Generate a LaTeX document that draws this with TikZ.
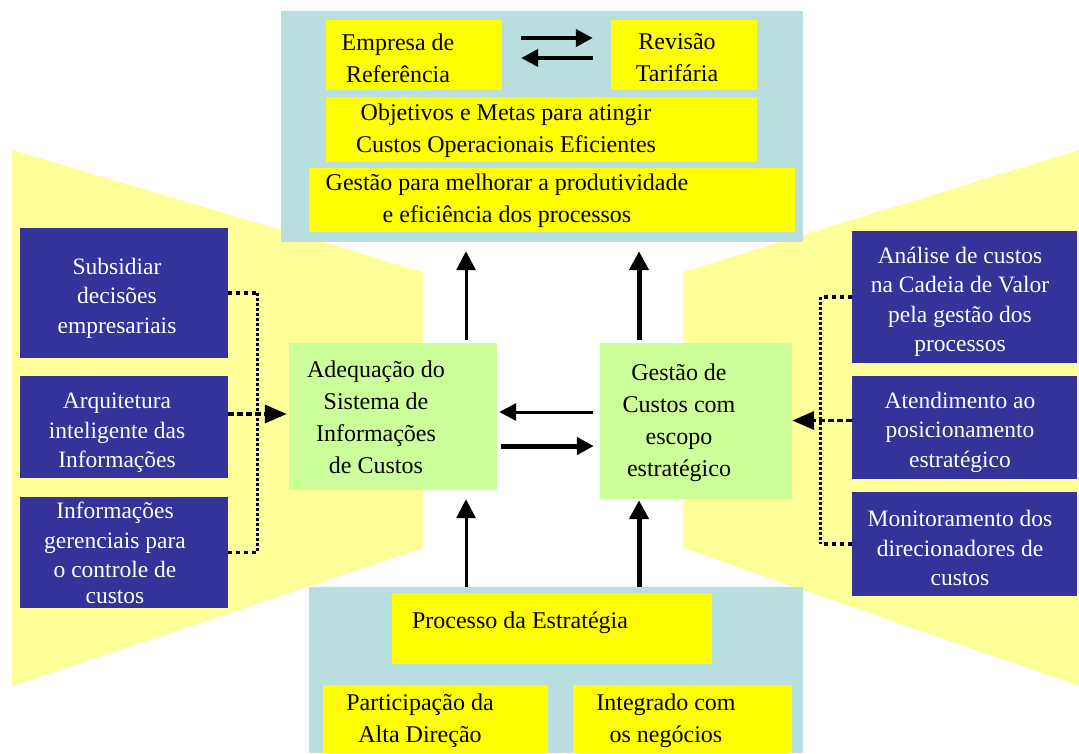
\documentclass[tikz,border=0pt]{standalone}
\usepackage{fontspec}
\setmainfont{Liberation Serif}
\usetikzlibrary{arrows.meta,fit}
\definecolor{panelblue}{RGB}{184,222,224}
\definecolor{boxyellow}{RGB}{255,255,0}
\definecolor{paleyellow}{RGB}{255,255,153}
\definecolor{navyblue}{RGB}{51,51,153}
\definecolor{lightgreen}{RGB}{204,255,153}
\begin{document}
\begin{tikzpicture}[x=1pt,y=-1pt,
  panel/.style={fill=panelblue, inner sep=0pt, draw=none},
  ybox/.style={fill=boxyellow, inner sep=0pt, draw=none},
  nbox/.style={fill=navyblue, inner sep=0pt, draw=none},
  gbox/.style={fill=lightgreen, inner sep=0pt, draw=none},
  dtext/.style={align=center, text=black, font=\fontsize{24}{32}\selectfont, inner sep=0pt},
  wtext/.style={align=center, text=white, font=\fontsize{23.5}{29.5}\selectfont, inner sep=0pt},
  arrthin/.style={line width=3pt, -{Triangle[length=19pt,width=19pt]}},
  arrthick/.style={line width=5pt, -{Triangle[length=19pt,width=19pt]}},
  harr/.style={line width=#1, -{Triangle[length=17pt,width=17pt]}},
  doth/.style={line width=3.5pt, dash pattern=on 4pt off 4pt},
  dotv/.style={line width=3pt, dash pattern=on 2.5pt off 2.5pt},
  dasharr/.style={line width=3.5pt, dash pattern=on 6pt off 3pt, -{Triangle[length=22pt,width=18pt]}}
]
\useasboundingbox (0,0) rectangle (1079,753);
\fill[white] (0,0) rectangle (1079,753);

% pale yellow trapezoids
\fill[paleyellow] (12,150) -- (423,272) -- (423,548) -- (12,686) -- cycle;
\fill[paleyellow] (1079,150) -- (683,272) -- (683,548) -- (1079,686) -- cycle;

% top panel
\node[panel, fit={(281,11) (803,242)}] (top) {};
\node[ybox, fit={(326,20) (502,90)}] (emp) {};
\node[ybox, fit={(611,20) (757,90)}] (rev) {};
\node[ybox, fit={(326,97) (757,162)}] (obj) {};
\node[ybox, fit={(309,168) (795,232)}] (gmel) {};
\node[dtext] (t-emp) at (398,58) {Empresa de\\Referência};
\node[dtext] (t-rev) at (677,58) {Revisão\\Tarifária};
\node[dtext] (t-obj) at (506,131) {Objetivos e Metas para atingir\\Custos Operacionais Eficientes};
\node[dtext] (t-gmel) at (507,201) {Gestão para melhorar a produtividade\\e eficiência dos processos};

% bottom panel
\node[panel, fit={(309,587) (803,753)}] (bot) {};
\node[ybox, fit={(392,593) (712,664)}] (proc) {};
\node[ybox, fit={(323,685) (548,753)}] (part) {};
\node[ybox, fit={(573,685) (792,753)}] (integ) {};
\node[dtext] (t-proc) at (520,623) {Processo da Estratégia};
\node[dtext] (t-part) at (420,721) {Participação da\\Alta Direção};
\node[dtext] (t-integ) at (666,721) {Integrado com\\os negócios};

% green boxes
\node[gbox, fit={(289,343) (497,490)}] (adeq) {};
\node[gbox, fit={(600,343) (792,499)}] (gcust) {};
\node[dtext] (t-adeq) at (376,417) {Adequação do\\Sistema de\\Informações\\de Custos};
\node[dtext] (t-gcust) at (679,423) {Gestão de\\Custos com\\escopo\\estratégico};

% left navy boxes
\node[nbox, fit={(20,228) (228,358)}] (sub) {};
\node[nbox, fit={(20,376) (228,478)}] (arq) {};
\node[nbox, fit={(20,497) (228,608)}] (inf) {};
\node[wtext] (t-sub) at (117,298) {Subsidiar\\decisões\\empresariais};
\node[wtext] (t-arq) at (117,433) {Arquitetura\\inteligente das\\Informações};
\node[wtext] (t-inf) at (115,553) {Informações\\gerenciais para\\o controle de\\[-3.5pt]custos};

% right navy boxes
\node[nbox, fit={(852,231) (1077,363)}] (ana) {};
\node[nbox, fit={(852,376) (1077,479)}] (ate) {};
\node[nbox, fit={(852,492) (1077,596)}] (mon) {};
\node[wtext] (t-ana) at (960,302) {Análise de custos\\na Cadeia de Valor\\pela gestão dos\\processos};
\node[wtext] (t-ate) at (960,432) {Atendimento ao\\posicionamento\\estratégico};
\node[wtext] (t-mon) at (960,548) {Monitoramento dos\\direcionadores de\\custos};

% arrows in top panel
\coordinate (ty1) at (0,38);
\coordinate (ty2) at (0,58);
\draw[harr=4pt, shorten <=19pt, shorten >=18pt] (emp.east |- ty1) -- (rev.west |- ty1);
\draw[harr=4pt, shorten <=18pt, shorten >=19pt] (rev.west |- ty2) -- (emp.east |- ty2);

% vertical arrows
\coordinate (ux1) at (466,0);
\coordinate (ux2) at (639,0);
\draw[arrthin, shorten <=3pt, shorten >=9pt] (ux1 |- adeq.north) -- (ux1 |- top.south);
\draw[arrthick, shorten <=3pt, shorten >=9pt] (ux2 |- gcust.north) -- (ux2 |- top.south);
\draw[arrthin, shorten >=9pt] (ux1 |- bot.north) -- (ux1 |- adeq.south);
\draw[arrthick, shorten >=1pt] (ux2 |- bot.north) -- (ux2 |- gcust.south);

% horizontal arrows between green boxes
\coordinate (hy1) at (0,412);
\coordinate (hy2) at (0,446);
\draw[harr=3pt, shorten <=7pt, shorten >=2pt] (gcust.west |- hy1) -- (adeq.east |- hy1);
\draw[harr=5pt, shorten <=4pt, shorten >=6pt] (adeq.east |- hy2) -- (gcust.west |- hy2);

% left dotted connectors
\coordinate (lv) at (257,0);
\draw[doth] (sub.east) -- (sub.east -| lv);
\draw[doth] (inf.east) -- (inf.east -| lv);
\draw[dotv] (sub.east -| lv) -- (inf.east -| lv);
\draw[dasharr, shorten >=2pt] ([yshift=13pt]arq.east) -- ([yshift=13pt]arq.east -| adeq.west);

% right dotted connectors
\coordinate (rv) at (820,0);
\draw[doth] (ana.west) -- (ana.west -| rv);
\draw[doth] (mon.west) -- (mon.west -| rv);
\draw[dotv] (ana.west -| rv) -- (mon.west -| rv);
\draw[dasharr] ([yshift=7pt]ate.west) -- ([yshift=7pt]ate.west -| gcust.east);
\end{tikzpicture}
\end{document}
